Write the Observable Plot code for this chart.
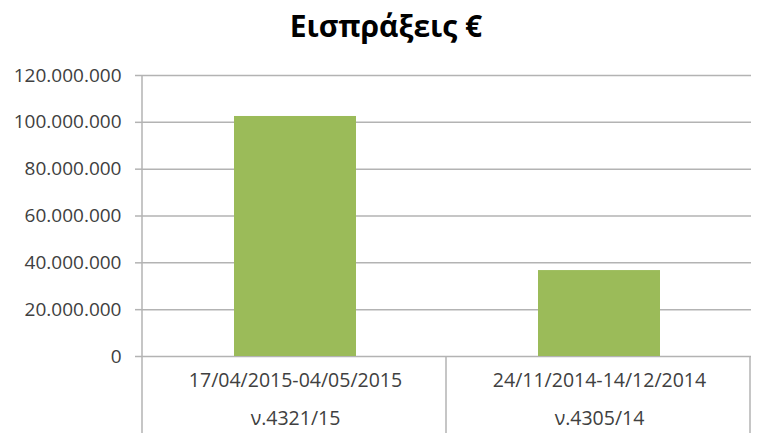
<!DOCTYPE html>
<html><head><meta charset="utf-8">
<script src="https://cdn.jsdelivr.net/npm/d3@7"></script>
<script src="https://cdn.jsdelivr.net/npm/@observablehq/plot@0.6"></script>
<style>
body{margin:0;background:#fff;font-family:"Open Sans",sans-serif;}
#title{width:772px;height:52px;line-height:52px;font-size:30px;font-weight:bold;text-align:center;color:#000;}
</style></head><body>
<div id="title">Εισπράξεις €</div>
<div id="chart"></div>
<script>
const periods = ["17/04/2015-04/05/2015", "24/11/2014-14/12/2014"];
const laws = ["ν.4321/15", "ν.4305/14"];
const revenues = [102500000, 36700000];
const yTicks = [0, 20000000, 40000000, 60000000, 80000000, 100000000, 120000000];

const data = periods.map((p, i) => ({period: p, law: laws[i], value: revenues[i]}));
const fmt = d3.formatLocale({decimal: ",", thousands: ".", grouping: [3], currency: ["", "€"]}).format(",d");
const W = 770, H = 381;
const gridColor = "#b3b3b3", textColor = "#404040";

const plot = Plot.plot({
  width: W, height: H,
  marginLeft: 142, marginRight: 19, marginTop: 23, marginBottom: 77,
  style: {fontFamily: "'Open Sans', sans-serif", fontSize: "19px", background: "#fff", color: textColor},
  x: {domain: periods, padding: 0, axis: null},
  y: {domain: [0, 120000000], axis: null},
  marks: [
    Plot.gridY(yTicks, {stroke: gridColor, strokeOpacity: 1, strokeWidth: 1.5}),
    Plot.axisY(yTicks, {tickFormat: fmt, tickSize: 7, tickPadding: 14, stroke: gridColor, strokeWidth: 1.5, fill: textColor, fontSize: 19, label: null}),
    Plot.barY(data, {x: "period", y: "value", fill: "#9BBB59", insetLeft: 91, insetRight: 91}),
    Plot.text(data, {x: "period", text: "period", frameAnchor: "bottom", dy: 30, fill: textColor, fontSize: 19.5}),
    Plot.text(data, {x: "period", text: "law", frameAnchor: "bottom", dy: 68, fill: textColor, fontSize: 19.5})
  ]
});

// category separators and y axis line, positioned from the plot's own scales
const xs = plot.scale("x"), ys = plot.scale("y");
const y0 = ys.apply(0), yTop = ys.apply(120000000);
const svg = d3.select(plot.tagName === "svg" ? plot : plot.querySelector("svg"));
const g = svg.append("g").attr("stroke", gridColor).attr("stroke-width", 1.5);
for (let i = 0; i <= periods.length; i++) {
  const x = xs.range[0] + i * xs.step;
  g.append("line").attr("x1", x).attr("x2", x).attr("y1", i === 0 ? yTop : y0).attr("y2", H);
}
document.getElementById("chart").appendChild(plot);
</script>
</body></html>
